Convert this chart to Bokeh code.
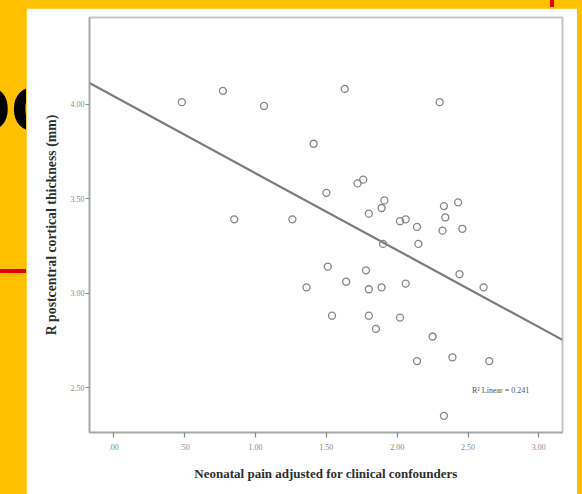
from bokeh.plotting import figure
from bokeh.models import Div, FixedTicker, Label, Range1d
from bokeh.layouts import row
from bokeh.embed import file_html
from bokeh.resources import INLINE

# ---- data ----
pain_adj = [0.48, 0.77, 1.06, 1.41, 1.50, 0.85, 1.26, 1.63, 2.30,
            1.72, 1.76, 1.91, 1.89, 1.80, 2.02, 2.06, 2.14, 2.33, 2.43,
            2.34, 2.32, 2.46, 1.90, 2.15, 1.51, 1.78, 1.64, 1.36, 1.80,
            1.89, 2.06, 2.44, 2.61, 1.54, 1.80, 2.02, 1.85, 2.25, 2.14,
            2.39, 2.65, 2.33]
thickness = [4.01, 4.07, 3.99, 3.79, 3.53, 3.39, 3.39, 4.08, 4.01,
             3.58, 3.60, 3.49, 3.45, 3.42, 3.38, 3.39, 3.35, 3.46, 3.48,
             3.40, 3.33, 3.34, 3.26, 3.26, 3.14, 3.12, 3.06, 3.03, 3.02,
             3.03, 3.05, 3.10, 3.03, 2.88, 2.88, 2.87, 2.81, 2.77, 2.64,
             2.66, 2.64, 2.35]
fit_intercept = 4.041
fit_slope = -0.407
r2_linear = 0.241

x_ticks = [0.0, 0.5, 1.0, 1.5, 2.0, 2.5, 3.0]
x_tick_labels = [".00", ".50", "1.00", "1.50", "2.00", "2.50", "3.00"]
y_ticks = [2.5, 3.0, 3.5, 4.0]
y_tick_labels = ["2.50", "3.00", "3.50", "4.00"]

x_title = "Neonatal pain adjusted for clinical confounders"
y_title = "R postcentral cortical thickness (mm)"

YELLOW = "#FFC000"

x_lo, x_hi = -0.172, 3.167
p = figure(width=551, height=486,
           x_range=Range1d(x_lo, x_hi), y_range=Range1d(2.262, 4.458),
           output_backend="svg", toolbar_location=None,
           min_border_left=63, min_border_right=15,
           min_border_top=9, min_border_bottom=62)
p.margin = (8, 5, 0, 0)
p.background_fill_color = "white"
p.border_fill_color = "white"
p.xgrid.visible = False
p.ygrid.visible = False
p.outline_line_color = "#c6c6c6"
p.outline_line_width = 2

# regression line
line_x = [x_lo, x_hi]
line_y = [fit_intercept + fit_slope * v for v in line_x]
p.line(line_x, line_y, line_color="#7c7c7c", line_width=2.2)

# points
p.scatter(pain_adj, thickness, marker="circle", size=7,
          fill_color=None, line_color="#858585", line_width=1.3)

for ax, ticks, labels in ((p.xaxis[0], x_ticks, x_tick_labels),
                          (p.yaxis[0], y_ticks, y_tick_labels)):
    ax.ticker = FixedTicker(ticks=ticks)
    ax.major_label_overrides = {t: l for t, l in zip(ticks, labels)}
    ax.minor_tick_line_color = None
    ax.axis_line_color = "#a8a8a8"
    ax.axis_line_width = 1.5
    ax.major_tick_line_color = "#8a8a8a"
    ax.major_tick_line_width = 1.2
    ax.major_label_text_font = "Liberation Serif"
    ax.major_label_text_font_size = "8px"
    ax.major_label_text_color = "#8a8a8a"
    ax.axis_label_text_font = "Liberation Serif"
    ax.axis_label_text_font_style = "bold"
    ax.axis_label_text_color = "#2e2e2e"

p.xaxis.major_tick_in = 0
p.xaxis.major_tick_out = 5
p.xaxis.major_label_standoff = 6
p.xaxis.axis_label = x_title
p.xaxis.axis_label_text_font_size = "13px"
p.xaxis.axis_label_standoff = 13

p.yaxis.major_tick_in = 0
p.yaxis.major_tick_out = 4
p.yaxis.major_label_standoff = 1
p.yaxis.axis_label = y_title
p.yaxis.axis_label_text_font_size = "13.8px"
p.yaxis.axis_label_standoff = 9

p.add_layout(Label(x=2.73, y=2.484, text="R\u00b2 Linear = " + str(r2_linear),
                   text_font="Liberation Serif", text_font_size="8px",
                   text_color="#555555", text_align="center",
                   text_baseline="middle"))

side_html = (
    '<div style="position:relative;width:26px;height:494px;">'
    '<div style="position:absolute;left:0;top:0;width:26px;height:494px;'
    'overflow:hidden;background:' + YELLOW + ';">'
    '<span style="position:absolute;left:-38px;top:63px;font-family:\'Liberation Sans\';'
    'font-weight:bold;font-size:80px;line-height:1;color:#000;">oo</span>'
    '<div style="position:absolute;left:0;top:269px;width:26px;height:4px;background:#E00000;"></div>'
    '</div>'
    '<div style="position:absolute;left:550px;top:0;width:4px;height:7px;background:#E00000;"></div>'
    '</div>'
)
side = Div(text=side_html, width=26, height=494, margin=0,
           styles={"overflow": "visible", "background-color": YELLOW})

layout = row(side, p, styles={"background-color": YELLOW})
html = file_html(layout, INLINE)
html = html.replace("</head>", "<style>html,body{background-color:" + YELLOW + ";}</style></head>", 1)
open("out.html", "w").write(html)
